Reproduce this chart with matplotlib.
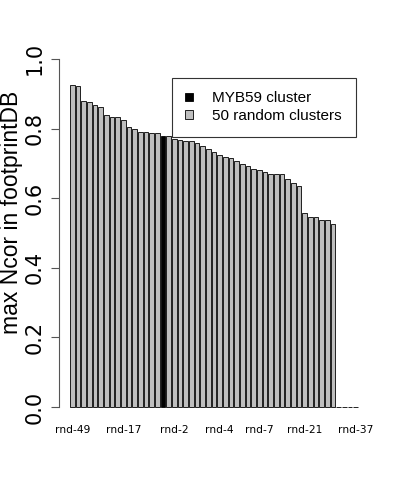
import matplotlib
matplotlib.use("Agg")
import matplotlib.pyplot as plt
from matplotlib.patches import Patch
import numpy as np

plt.rcParams['font.family'] = ['Liberation Sans', 'DejaVu Sans']

# max Ncor per cluster, sorted decreasing (index 16 is the MYB59 cluster)
ncor = [0.926, 0.922, 0.880, 0.876, 0.869, 0.861, 0.839, 0.834, 0.832, 0.826,
        0.804, 0.798, 0.791, 0.790, 0.788, 0.788, 0.780, 0.779, 0.769, 0.766,
        0.765, 0.764, 0.758, 0.749, 0.741, 0.734, 0.723, 0.719, 0.716, 0.707,
        0.699, 0.692, 0.685, 0.681, 0.674, 0.670, 0.670, 0.669, 0.654, 0.644,
        0.634, 0.557, 0.547, 0.546, 0.537, 0.536, 0.525, 0.0, 0.0, 0.0, 0.0]
myb59_index = 16
shown_tick_idx = [0, 9, 18, 26, 33, 41, 50]
shown_tick_lab = ['rnd-49', 'rnd-17', 'rnd-2', 'rnd-4', 'rnd-7', 'rnd-21', 'rnd-37']

n = len(ncor)
lefts = 0.2 + 1.2 * np.arange(n)
centers = lefts + 0.5
colors = ['#BEBEBE'] * n
colors[myb59_index] = 'black'

fig = plt.figure(figsize=(4, 4.8), dpi=100)
ax = fig.add_axes([58.5 / 400, 59 / 480, 311 / 400, 376 / 480])
ax.bar(centers, ncor, width=1.0, color=colors, edgecolor='black', linewidth=0.6)

span = lefts[-1] + 1.0 - lefts[0]
ax.set_xlim(lefts[0] - 0.04 * span, lefts[-1] + 1.0 + 0.04 * span)
ax.set_ylim(-0.04, 1.04)

for s in ['top', 'right', 'bottom']:
    ax.spines[s].set_visible(False)
ax.spines['left'].set_bounds(0, 1)
ax.spines['left'].set_color('#555555')
ax.spines['left'].set_linewidth(0.8)

ax.set_yticks([0.0, 0.2, 0.4, 0.6, 0.8, 1.0])
ax.set_yticklabels(['0.0', '0.2', '0.4', '0.6', '0.8', '1.0'], rotation=90,
                   va='center', fontsize=15, family='DejaVu Sans')
ax.tick_params(axis='y', length=6, width=0.8, color='#555555', pad=4)
ax.set_ylabel('max Ncor in footprintDB', fontsize=16.5)
ax.yaxis.set_label_coords((23 - 58.5) / 311, 0.556)

ax.set_xticks(centers[shown_tick_idx])
ax.set_xticklabels(shown_tick_lab, fontsize=7.7, family='DejaVu Sans')
ax.tick_params(axis='x', length=0, pad=3)

handles = [Patch(facecolor='black', edgecolor='black', linewidth=0.6),
           Patch(facecolor='#BEBEBE', edgecolor='black', linewidth=0.6)]
leg = ax.legend(handles, ['MYB59 cluster', '50 random clusters'],
                loc='upper left', bbox_to_anchor=(171.7 / 400, 1 - 77.7 / 480),
                bbox_transform=fig.transFigure, borderaxespad=0, fontsize=11,
                handlelength=0.5, handleheight=0.5, handletextpad=1.25,
                borderpad=0.9, labelspacing=0.25, fancybox=False, framealpha=1)
leg.get_frame().set_edgecolor('#333333')
leg.get_frame().set_linewidth(0.8)

fig.savefig('out.png', dpi=100)
